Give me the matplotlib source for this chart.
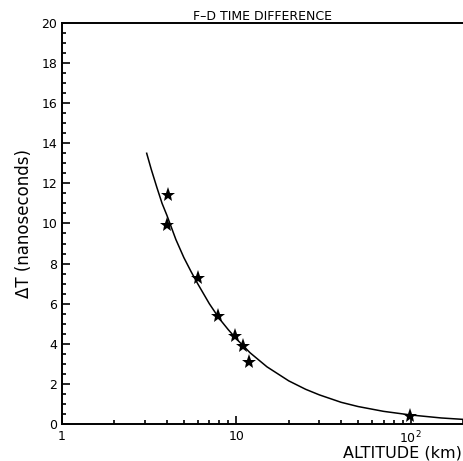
''' F-D time difference vs altitude. '''

from matplotlib import pyplot as plt
from matplotlib.ticker import FixedLocator, FixedFormatter, MultipleLocator

# Measured points (stars)
altitude = [4.05, 4.0, 6.0, 7.9, 9.8, 10.9, 11.9, 99.0]
deltaT = [11.4, 9.9, 7.3, 5.4, 4.4, 3.9, 3.1, 0.4]

# Fitted curve
curveAlt = [3.06, 3.25, 3.5, 3.75, 4, 4.5, 5, 5.5, 6, 7, 8, 9, 10, 12, 15,
            20, 25, 30, 40, 50, 70, 100, 150, 200]
curveDT = [13.5, 12.7, 11.8, 11.0, 10.4, 9.2, 8.3, 7.6, 7.0, 6.0, 5.25, 4.7,
           4.25, 3.55, 2.85, 2.15, 1.73, 1.45, 1.08, 0.87, 0.63, 0.45, 0.30, 0.23]

xTicks = [1, 10, 100]
xTickLabels = ['1', '10', r'10$^{2}$']

fig = plt.figure(figsize=(4.63, 4.61), dpi=100)
ax = fig.add_axes([0.134, 0.0803, 0.866, 0.870])

ax.plot(curveAlt, curveDT, color='black', linewidth=1.1)
ax.plot(altitude, deltaT, linestyle='none', marker='*', markersize=11,
        color='black', markeredgewidth=0)

ax.set_xscale('log')
ax.set_xlim(1, 200)
ax.set_ylim(0, 20)

ax.xaxis.set_major_locator(FixedLocator(xTicks))
ax.xaxis.set_major_formatter(FixedFormatter(xTickLabels))
minors = [m * d for d in (1, 10, 100) for m in range(2, 10) if m * d < 200] + [200]
ax.xaxis.set_minor_locator(FixedLocator(minors))
ax.xaxis.set_minor_formatter(FixedFormatter([''] * len(minors)))
ax.yaxis.set_major_locator(MultipleLocator(2))
ax.yaxis.set_minor_locator(MultipleLocator(0.5))

ax.tick_params(which='both', direction='in', width=1.2, labelsize=9,
               top=False, right=False)
ax.tick_params(which='major', length=6)
ax.tick_params(which='minor', length=3)
ax.tick_params(axis='x', pad=4)

ax.spines['right'].set_visible(False)
for side in ('left', 'bottom', 'top'):
	ax.spines[side].set_linewidth(1.4)

ax.set_title('F\u2013D TIME DIFFERENCE', fontsize=9, pad=2)
ax.set_ylabel('\u0394T (nanoseconds)', fontsize=12, labelpad=6)
# x label sits at the lower right corner, under the last tick label
fig.text(0.998, 0.008, 'ALTITUDE (km)', fontsize=11.5, ha='right', va='baseline')

fig.savefig('out.png', dpi=100)
